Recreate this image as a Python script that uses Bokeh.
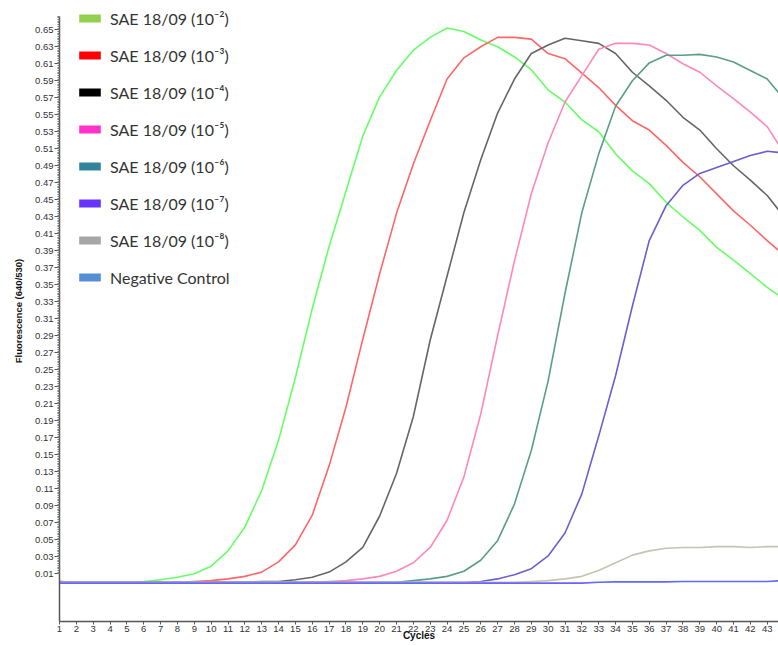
import numpy as np
from bokeh.plotting import figure
from bokeh.models import FixedTicker, Legend, LegendItem, NumeralTickFormatter, Range1d
from bokeh.embed import file_html
from bokeh.resources import INLINE

cycles = list(range(1, 45))

dil_2 = [0.001, 0.000, 0.000, 0.000, 0.000, 0.001, 0.003, 0.006, 0.010, 0.019, 0.037, 0.065,
         0.108, 0.167, 0.241, 0.322, 0.395, 0.460, 0.525, 0.571, 0.602, 0.626, 0.641, 0.652,
         0.648, 0.638, 0.630, 0.618, 0.603, 0.579, 0.565, 0.544, 0.530, 0.504, 0.484, 0.469,
         0.447, 0.430, 0.414, 0.394, 0.379, 0.363, 0.347, 0.333]
dil_3 = [0.000, 0.000, 0.000, 0.000, 0.000, 0.000, 0.000, 0.000, 0.001, 0.002, 0.004, 0.007,
         0.012, 0.024, 0.044, 0.079, 0.137, 0.206, 0.286, 0.363, 0.434, 0.492, 0.543, 0.592,
         0.617, 0.630, 0.641, 0.641, 0.639, 0.622, 0.616, 0.599, 0.582, 0.561, 0.543, 0.532,
         0.514, 0.494, 0.477, 0.457, 0.437, 0.420, 0.402, 0.385]
dil_4 = [0.001, 0.000, 0.000, 0.000, 0.000, 0.000, 0.000, 0.000, 0.000, 0.000, 0.000, 0.000,
         0.001, 0.001, 0.003, 0.006, 0.012, 0.024, 0.041, 0.078, 0.128, 0.195, 0.285, 0.360,
         0.435, 0.497, 0.552, 0.592, 0.622, 0.632, 0.640, 0.637, 0.634, 0.622, 0.600, 0.584,
         0.567, 0.547, 0.532, 0.510, 0.490, 0.473, 0.455, 0.430]
dil_5 = [0.000, 0.000, 0.000, 0.000, 0.000, 0.000, 0.000, 0.000, 0.000, 0.000, 0.000, 0.000,
         0.000, 0.000, 0.000, 0.000, 0.001, 0.002, 0.004, 0.007, 0.013, 0.023, 0.041, 0.073,
         0.124, 0.198, 0.290, 0.378, 0.457, 0.517, 0.565, 0.596, 0.627, 0.634, 0.634, 0.632,
         0.622, 0.610, 0.600, 0.584, 0.569, 0.553, 0.536, 0.505]
dil_6 = [0.000, 0.000, 0.000, 0.000, 0.000, 0.000, 0.000, 0.000, 0.000, 0.000, 0.000, 0.000,
         0.000, 0.000, 0.000, 0.000, 0.000, 0.000, 0.000, 0.000, 0.000, 0.002, 0.004, 0.007,
         0.013, 0.026, 0.049, 0.092, 0.155, 0.237, 0.340, 0.435, 0.504, 0.560, 0.590, 0.611,
         0.620, 0.620, 0.621, 0.618, 0.612, 0.602, 0.592, 0.568]
dil_7 = [0.000, 0.000, 0.000, 0.000, 0.000, 0.000, 0.000, 0.000, 0.000, 0.000, 0.000, 0.000,
         0.000, 0.000, 0.000, 0.000, 0.000, 0.000, 0.000, 0.000, 0.000, 0.000, 0.000, 0.000,
         0.000, 0.001, 0.004, 0.009, 0.016, 0.031, 0.058, 0.104, 0.172, 0.243, 0.325, 0.402,
         0.443, 0.467, 0.481, 0.488, 0.495, 0.502, 0.507, 0.505]
dil_8 = [0.000, 0.000, 0.000, 0.000, 0.000, 0.000, 0.000, 0.000, 0.000, 0.000, 0.000, 0.000,
         0.000, 0.000, 0.000, 0.000, 0.000, 0.000, 0.000, 0.000, 0.000, 0.000, 0.000, 0.000,
         0.000, 0.000, 0.000, 0.000, 0.001, 0.002, 0.004, 0.007, 0.014, 0.023, 0.032, 0.037,
         0.040, 0.041, 0.041, 0.042, 0.042, 0.041, 0.042, 0.042]
neg_ctrl = [-0.001, -0.001, -0.001, -0.001, -0.001, -0.001, -0.001, -0.001, -0.001, -0.001,
            -0.001, -0.001, -0.001, -0.001, -0.001, -0.001, -0.001, -0.001, -0.001, -0.001,
            -0.001, -0.001, -0.001, -0.001, -0.001, -0.001, -0.001, -0.001, -0.001, -0.001,
            -0.001, -0.001, 0.000, 0.0005, 0.0005, 0.0005, 0.0005, 0.001, 0.001, 0.001,
            0.001, 0.001, 0.001, 0.002]

series_labels = ["SAE 18/09 (10\u207b\u00b2)", "SAE 18/09 (10\u207b\u00b3)", "SAE 18/09 (10\u207b\u2074)",
                 "SAE 18/09 (10\u207b\u2075)", "SAE 18/09 (10\u207b\u2076)", "SAE 18/09 (10\u207b\u2077)",
                 "SAE 18/09 (10\u207b\u2078)", "Negative Control"]
series_values = [dil_2, dil_3, dil_4, dil_5, dil_6, dil_7, dil_8, neg_ctrl]
line_colors = ["#66ff66", "#ff6666", "#666666", "#ff88bb", "#5a9e88", "#6b5fcf", "#c4c4b4", "#6666ff"]
legend_colors = ["#92d050", "#ff0000", "#000000", "#ff33cc", "#31849b", "#6633ff", "#a6a6a6", "#558ed5"]

y_ticks = [0.01, 0.03, 0.05, 0.07, 0.09, 0.11, 0.13, 0.15, 0.17, 0.19, 0.21, 0.23, 0.25, 0.27,
           0.29, 0.31, 0.33, 0.35, 0.37, 0.39, 0.41, 0.43, 0.45, 0.47, 0.49, 0.51, 0.53, 0.55,
           0.57, 0.59, 0.61, 0.63, 0.65]
x_ticks = cycles

p = figure(width=778, height=646, output_backend="svg", toolbar_location=None,
           x_range=Range1d(1, 43.67), y_range=Range1d(-0.0461, 0.6844),
           min_border_left=59, min_border_right=0, min_border_top=0, min_border_bottom=25)
p.xgrid.visible = False
p.ygrid.visible = False
p.outline_line_color = None
p.background_fill_color = "white"
p.border_fill_color = "white"

for vals, col in zip(series_values, line_colors):
    p.line(cycles, vals, line_color=col, line_width=1.6)

# legend swatches: zero-area, hidden quads built from each series (only shown in the legend)
items = []
for lab, col, vals in zip(series_labels, legend_colors, series_values):
    r = p.quad(left=cycles, right=cycles, bottom=vals, top=vals,
               fill_color=col, line_color=None, visible=False)
    items.append(LegendItem(label=lab, renderers=[r]))

legend = Legend(items=items, location=(17, 334), padding=0, margin=0, spacing=17,
                label_height=20, glyph_width=27, glyph_height=10, label_standoff=7,
                border_line_color=None, background_fill_alpha=0,
                label_text_font="Lato", label_text_font_size="16px",
                label_text_color="#333333")
p.add_layout(legend)

minor = np.round(np.arange(0.01, 0.6661, 0.002), 3).tolist()
ya = p.yaxis[0]
ya.bounds = (-0.0461, 0.6656)
ya.ticker = FixedTicker(ticks=y_ticks, minor_ticks=minor)
ya.formatter = NumeralTickFormatter(format="0.00")
ya.major_tick_out = 5
ya.major_tick_in = 0
ya.minor_tick_out = 2
ya.minor_tick_in = 0
ya.axis_line_color = "#555555"
ya.axis_line_width = 1.5
ya.major_tick_line_color = "#555555"
ya.minor_tick_line_color = "#777777"
ya.major_label_text_font = "Liberation Sans"
ya.major_label_text_font_size = "9.5px"
ya.major_label_text_color = "#333333"
ya.major_label_standoff = 1
ya.axis_label = "Fluorescence (640/530)"
ya.axis_label_text_font = "Liberation Sans"
ya.axis_label_text_font_style = "bold"
ya.axis_label_text_font_size = "9.5px"
ya.axis_label_text_color = "#111111"
ya.axis_label_standoff = 8

xa = p.xaxis[0]
xa.ticker = FixedTicker(ticks=x_ticks, minor_ticks=[])
xa.major_tick_out = 3
xa.major_tick_in = 0
xa.axis_line_color = "#555555"
xa.axis_line_width = 1.5
xa.major_tick_line_color = "#555555"
xa.major_label_text_font = "Liberation Sans"
xa.major_label_text_font_size = "9.5px"
xa.major_label_text_color = "#333333"
xa.major_label_standoff = 1
xa.axis_label = "Cycles"
xa.axis_label_text_font = "Liberation Sans"
xa.axis_label_text_font_style = "bold"
xa.axis_label_text_font_size = "10px"
xa.axis_label_text_color = "#111111"
xa.axis_label_standoff = -5

open("out.html", "w").write(file_html(p, INLINE))
